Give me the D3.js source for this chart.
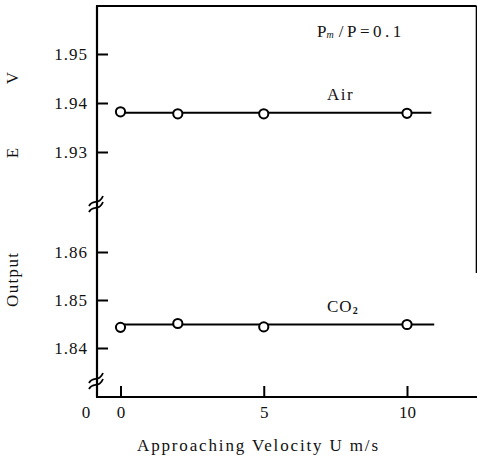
<!DOCTYPE html>
<html>
<head>
<meta charset="utf-8">
<script src="https://cdn.jsdelivr.net/npm/d3@7"></script>
<style>
  html, body { margin: 0; padding: 0; background: #fff; }
  svg { display: block; }
  text { font-family: "Liberation Serif", "DejaVu Serif", serif; fill: #111; }
</style>
</head>
<body>
<svg id="chart" width="477" height="461"></svg>
<script>
// ---- data ----
const velocities = [0, 2, 5, 10];
const airOutput  = [1.9382, 1.9378, 1.9378, 1.9379];
const co2Output  = [1.8443, 1.8451, 1.8444, 1.8449];
const airFitX = [0, 10.85];
const airFitY = [1.938, 1.938];
const co2FitX = [0, 10.95];
const co2FitY = [1.8449, 1.8449];
const xTicks = [0, 5, 10];
const yUpperTicks = [1.93, 1.94, 1.95];
const yLowerTicks = [1.84, 1.85, 1.86];
const seriesLabels = ["Air", "CO\u2082"];

const FS = 17;
const svg = d3.select("#chart");
const axX = 97, axBottom = 397, axTop = 6, axRight = 476.5;

const x  = d3.scaleLinear().domain([0, 10]).range([120.5, 407]);
const yU = d3.scaleLinear().domain([1.93, 1.95]).range([152, 54]);
const yL = d3.scaleLinear().domain([1.84, 1.86]).range([348, 252]);

// frame lines
svg.append("line").attr("x1", axX).attr("x2", axX).attr("y1", axTop).attr("y2", axBottom)
  .attr("stroke", "#000").attr("stroke-width", 2.2);
svg.append("line").attr("x1", axX - 1).attr("x2", 477).attr("y1", axBottom).attr("y2", axBottom)
  .attr("stroke", "#000").attr("stroke-width", 2.2);
svg.append("line").attr("x1", axX - 1).attr("x2", axRight).attr("y1", axTop).attr("y2", axTop)
  .attr("stroke", "#000").attr("stroke-width", 2);
svg.append("line").attr("x1", axRight).attr("x2", axRight).attr("y1", axTop).attr("y2", 273)
  .attr("stroke", "#000").attr("stroke-width", 1.6);

// y axes (ticks inward)
function yAxis(scale, ticks) {
  const g = svg.append("g").attr("transform", `translate(${axX},0)`)
    .call(d3.axisLeft(scale).tickValues(ticks).tickSizeInner(-11).tickSizeOuter(0)
      .tickPadding(9).tickFormat(d3.format(".2f")));
  g.select(".domain").remove();
  g.selectAll(".tick line").attr("stroke", "#000").attr("stroke-width", 2);
  g.selectAll(".tick text").attr("font-size", FS).attr("letter-spacing", 1)
    .attr("font-family", "Liberation Serif").attr("fill", "#111");
}
yAxis(yU, yUpperTicks);
yAxis(yL, yLowerTicks);

// x axis
const gx = svg.append("g").attr("transform", `translate(0,${axBottom})`)
  .call(d3.axisBottom(x).tickValues(xTicks).tickSizeInner(-11).tickSizeOuter(0).tickPadding(9)
    .tickFormat(d3.format("d")));
gx.select(".domain").remove();
gx.selectAll(".tick line").attr("stroke", "#000").attr("stroke-width", 2);
gx.selectAll(".tick text").attr("font-size", FS).attr("font-family", "Liberation Serif").attr("fill", "#111");
// origin label of the broken axis
svg.append("text").attr("x", 86).attr("y", 418).attr("text-anchor", "middle")
  .attr("font-size", FS).text("0");

// axis break marks on the y axis
function breakMark(cy) {
  [-3, 3].forEach(off => {
    svg.append("path")
      .attr("d", `M${axX - 8},${cy + off + 5} C${axX - 4},${cy + off - 3} ${axX + 2},${cy + off + 5} ${axX + 6},${cy + off - 5}`)
      .attr("fill", "none").attr("stroke", "#000").attr("stroke-width", 1.8);
  });
}
breakMark(204);
breakMark(381);

// fitted lines
const line = d3.line();
svg.append("path").attr("d", line(airFitX.map((v, i) => [x(v), yU(airFitY[i])])))
  .attr("stroke", "#000").attr("stroke-width", 2).attr("fill", "none");
svg.append("path").attr("d", line(co2FitX.map((v, i) => [x(v), yL(co2FitY[i])])))
  .attr("stroke", "#000").attr("stroke-width", 2).attr("fill", "none");

// points
svg.selectAll("circle.air").data(velocities).enter().append("circle")
  .attr("cx", d => x(d)).attr("cy", (d, i) => yU(airOutput[i])).attr("r", 4.6)
  .attr("fill", "#fff").attr("stroke", "#000").attr("stroke-width", 2);
svg.selectAll("circle.co2").data(velocities).enter().append("circle")
  .attr("cx", d => x(d)).attr("cy", (d, i) => yL(co2Output[i])).attr("r", 4.6)
  .attr("fill", "#fff").attr("stroke", "#000").attr("stroke-width", 2);

// series labels
svg.append("text").attr("x", 327).attr("y", 100).attr("letter-spacing", 1.5)
  .attr("font-size", FS).text(seriesLabels[0]);
const co2t = svg.append("text").attr("x", 327).attr("y", 312).attr("font-size", FS).attr("letter-spacing", 1);
co2t.append("tspan").text("CO");
co2t.append("tspan").attr("font-size", 10).attr("dy", 2).attr("font-weight", "bold").text("2");

// condition label
const pt = svg.append("text").attr("x", 317).attr("y", 37).attr("font-size", FS);
pt.append("tspan").text("P");
pt.append("tspan").attr("font-size", 10).attr("font-style", "italic").attr("dy", 1).text("m");
pt.append("tspan").attr("dy", -1).attr("dx", 5).attr("letter-spacing", 3.5).text("/P=0.1");

// x title
svg.append("text").attr("x", 137).attr("y", 451).attr("font-size", FS)
  .attr("textLength", 241).attr("lengthAdjust", "spacing").text("Approaching Velocity U m/s");

// y title pieces (rotated)
function yText(t, cy, len) {
  const el = svg.append("text").attr("transform", `translate(18,${cy}) rotate(-90)`)
    .attr("text-anchor", "middle").attr("font-size", FS).text(t);
  if (len) el.attr("textLength", len).attr("lengthAdjust", "spacing");
}
yText("Output", 280, 54);
yText("E", 153);
yText("V", 78);
</script>
</body>
</html>
